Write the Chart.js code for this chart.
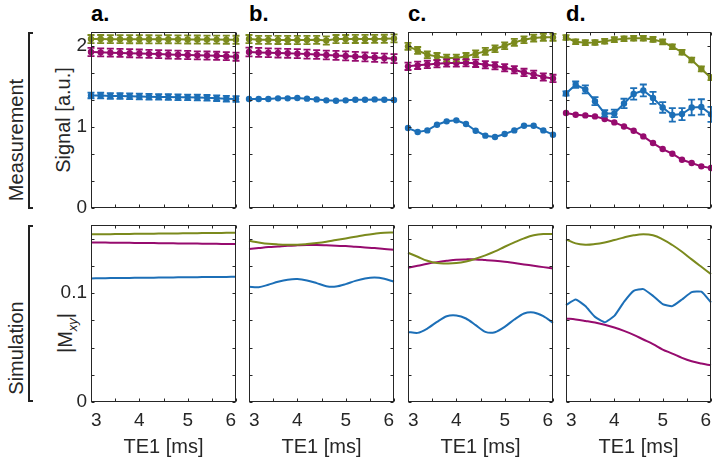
<!DOCTYPE html>
<html>
<head>
<meta charset="utf-8">
<script src="https://cdn.jsdelivr.net/npm/chart.js@4.4.0/dist/chart.umd.min.js"></script>
<style>
    body { margin: 0; background: #fff; width: 712px; height: 461px; overflow: hidden; position: relative; font-family: "Liberation Sans", Arial, sans-serif; }
    canvas { position: absolute; }
    .ttl { position: absolute; top: 3px; font-weight: bold; font-size: 22px; line-height: 22px; color: #000; }
    .vlab { position: absolute; transform: translate(-50%, -50%) rotate(-90deg); white-space: nowrap; font-size: 20px; line-height: 22px; color: #262626; }
    .vlab sub { font-size: 13px; font-style: italic; }
    .brk { position: absolute; box-sizing: border-box; width: 5px; border: 2px solid #222; border-right: none; }
</style>
</head>
<body>
<div class="ttl" style="left:91px">a.</div>
<div class="ttl" style="left:249px">b.</div>
<div class="ttl" style="left:408px">c.</div>
<div class="ttl" style="left:566px">d.</div>
<div class="brk" style="left:28px; top:32px; height:177px"></div>
<div class="brk" style="left:28px; top:225px; height:177px"></div>
<div class="vlab" style="left:16px; top:140px">Measurement</div>
<div class="vlab" style="left:16px; top:348px">Simulation</div>
<div class="vlab" style="left:63px; top:120px">Signal [a.u.]</div>
<div class="vlab" style="left:69px; top:333px">|M<sub>xy</sub>|</div>
<script>
// echo times (ms) and axis ticks
const te1 = [3.0, 3.2, 3.4, 3.6, 3.8, 4.0, 4.2, 4.4, 4.6, 4.8, 5.0, 5.2, 5.4, 5.6, 5.8, 6.0];
const teTicks = [3, 3.5, 4, 4.5, 5, 5.5, 6];
const teTickLabels = ['3', '', '4', '', '5', '', '6'];
const sigTicks = [0, 1/3, 2/3, 1, 4/3, 5/3, 2];
const sigTickLabels = ['0', '', '', '1', '', '', '2'];
const mxyTicks = [0, 0.025, 0.05, 0.075, 0.1, 0.125, 0.15];
const mxyTickLabels = ['0', '', '', '', '0.1', '', ''];

// Measurement: mean signal and sd
const measA_green = [2.086, 2.086, 2.085, 2.085, 2.084, 2.084, 2.083, 2.082, 2.084, 2.082, 2.081, 2.080, 2.079, 2.079, 2.078, 2.077];
const measA_mag   = [1.926, 1.922, 1.918, 1.915, 1.911, 1.907, 1.903, 1.900, 1.896, 1.892, 1.889, 1.885, 1.882, 1.879, 1.875, 1.868];
const measA_blue  = [1.390, 1.388, 1.384, 1.382, 1.379, 1.376, 1.374, 1.372, 1.370, 1.368, 1.366, 1.364, 1.360, 1.356, 1.350, 1.346];
const sdA_green = [0.05, 0.05, 0.05, 0.05, 0.05, 0.05, 0.05, 0.05, 0.05, 0.05, 0.05, 0.05, 0.05, 0.05, 0.05, 0.05];
const sdA_mag   = [0.05, 0.05, 0.05, 0.05, 0.05, 0.05, 0.05, 0.05, 0.05, 0.05, 0.05, 0.05, 0.05, 0.05, 0.05, 0.05];
const sdA_blue  = [0.035, 0.035, 0.035, 0.035, 0.035, 0.035, 0.035, 0.035, 0.035, 0.035, 0.035, 0.035, 0.035, 0.035, 0.035, 0.035];

const measB_green = [2.086, 2.076, 2.076, 2.075, 2.075, 2.074, 2.074, 2.076, 2.068, 2.086, 2.086, 2.087, 2.087, 2.088, 2.089, 2.094];
const measB_mag   = [1.926, 1.921, 1.917, 1.913, 1.910, 1.906, 1.900, 1.895, 1.889, 1.884, 1.878, 1.872, 1.865, 1.858, 1.851, 1.844];
const measB_blue  = [1.345, 1.345, 1.345, 1.354, 1.354, 1.358, 1.350, 1.341, 1.329, 1.325, 1.329, 1.337, 1.337, 1.341, 1.337, 1.333];
const sdB_green = [0.05, 0.05, 0.05, 0.05, 0.05, 0.05, 0.05, 0.05, 0.05, 0.05, 0.05, 0.05, 0.05, 0.05, 0.05, 0.05];
const sdB_mag   = [0.055, 0.055, 0.055, 0.055, 0.055, 0.055, 0.055, 0.055, 0.055, 0.055, 0.055, 0.055, 0.055, 0.055, 0.055, 0.055];

const measC_green = [1.996, 1.946, 1.893, 1.872, 1.852, 1.852, 1.872, 1.905, 1.934, 1.967, 2.004, 2.045, 2.078, 2.098, 2.107, 2.107];
const measC_mag   = [1.749, 1.761, 1.773, 1.781, 1.790, 1.790, 1.794, 1.786, 1.769, 1.757, 1.732, 1.707, 1.674, 1.650, 1.617, 1.600];
const measC_blue  = [0.987, 0.938, 0.958, 1.028, 1.070, 1.082, 1.037, 0.954, 0.893, 0.876, 0.913, 0.958, 1.016, 1.016, 0.958, 0.905];
const sdC_green = [0.042, 0.042, 0.042, 0.042, 0.042, 0.042, 0.042, 0.042, 0.042, 0.042, 0.042, 0.042, 0.042, 0.042, 0.042, 0.042];
const sdC_mag   = [0.045, 0.045, 0.045, 0.045, 0.045, 0.045, 0.045, 0.045, 0.045, 0.045, 0.045, 0.045, 0.045, 0.045, 0.045, 0.045];

const measD_green = [2.105, 2.053, 2.041, 2.043, 2.059, 2.078, 2.090, 2.096, 2.096, 2.081, 2.051, 1.991, 1.923, 1.827, 1.717, 1.609];
const measD_blue  = [1.414, 1.522, 1.464, 1.319, 1.168, 1.168, 1.291, 1.409, 1.451, 1.359, 1.241, 1.149, 1.160, 1.241, 1.248, 1.156];
const measD_mag   = [1.173, 1.152, 1.143, 1.131, 1.099, 1.057, 1.007, 0.954, 0.884, 0.802, 0.728, 0.670, 0.596, 0.556, 0.514, 0.494];
const sdD_green = [0.03, 0.03, 0.03, 0.03, 0.03, 0.03, 0.03, 0.03, 0.03, 0.03, 0.03, 0.03, 0.03, 0.03, 0.03, 0.03];
const sdD_blue  = [0.025, 0.04, 0.05, 0.05, 0.04, 0.047, 0.058, 0.072, 0.074, 0.074, 0.065, 0.083, 0.074, 0.096, 0.095, 0.093];

// Simulation: |Mxy|
const simA_green = [0.1540, 0.1541, 0.1542, 0.1543, 0.1544, 0.1545, 0.1546, 0.1547, 0.1548, 0.1549, 0.1550, 0.1551, 0.1552, 0.1553, 0.1554, 0.1555];
const simA_mag   = [0.1466, 0.1465, 0.1464, 0.1463, 0.1462, 0.1461, 0.1460, 0.1459, 0.1458, 0.1457, 0.1456, 0.1455, 0.1454, 0.1453, 0.1452, 0.1451];
const simA_blue  = [0.1135, 0.1137, 0.1138, 0.1139, 0.1140, 0.1141, 0.1142, 0.1143, 0.1144, 0.1145, 0.1146, 0.1147, 0.1148, 0.1148, 0.1149, 0.1150];

const simB_green = [0.1481, 0.1466, 0.1454, 0.1448, 0.1445, 0.1445, 0.1451, 0.1460, 0.1472, 0.1488, 0.1503, 0.1518, 0.1534, 0.1546, 0.1555, 0.1558];
const simB_mag   = [0.1405, 0.1414, 0.1423, 0.1429, 0.1435, 0.1439, 0.1442, 0.1442, 0.1439, 0.1435, 0.1432, 0.1426, 0.1420, 0.1414, 0.1405, 0.1399];
const simB_blue  = [0.1058, 0.1055, 0.1077, 0.1104, 0.1123, 0.1129, 0.1117, 0.1092, 0.1064, 0.1061, 0.1083, 0.1113, 0.1135, 0.1144, 0.1132, 0.1104];

const simC_green = [0.1371, 0.1334, 0.1297, 0.1276, 0.1273, 0.1276, 0.1291, 0.1316, 0.1347, 0.1383, 0.1426, 0.1466, 0.1503, 0.1531, 0.1543, 0.1543];
const simC_mag   = [0.1233, 0.1251, 0.1270, 0.1285, 0.1297, 0.1307, 0.1310, 0.1310, 0.1304, 0.1297, 0.1288, 0.1276, 0.1264, 0.1251, 0.1239, 0.1227];
const simC_blue  = [0.0644, 0.0635, 0.0675, 0.0736, 0.0788, 0.0795, 0.0767, 0.0706, 0.0644, 0.0641, 0.0690, 0.0758, 0.0813, 0.0822, 0.0788, 0.0727];

const simD_green = [0.1494, 0.1457, 0.1445, 0.1451, 0.1466, 0.1488, 0.1512, 0.1531, 0.1540, 0.1531, 0.1494, 0.1442, 0.1380, 0.1310, 0.1242, 0.1175];
const simD_blue  = [0.0890, 0.0942, 0.0881, 0.0782, 0.0733, 0.0791, 0.0920, 0.1021, 0.1037, 0.0975, 0.0899, 0.0881, 0.0942, 0.1010, 0.1013, 0.0914];
const simD_mag   = [0.0767, 0.0758, 0.0745, 0.0730, 0.0709, 0.0684, 0.0653, 0.0617, 0.0574, 0.0531, 0.0482, 0.0445, 0.0405, 0.0374, 0.0353, 0.0338];

const GREEN = '#7b8a1d', MAG = '#960b6e', BLUE = '#1c6fb7';
const FONT = '"Liberation Sans", Arial, sans-serif';
const TXT = '#262626';

// layout of the axes boxes
const colLeft = [91, 249, 408, 566];
const BOX_W = 145, PAD = 8, YW = 40;
const rows = [
    { top: 32, h: 176, xh: 8 },
    { top: 225, h: 177, xh: 58 }
];

// error bars + MATLAB-style box with inward ticks
const boxPlugin = {
    id: 'boxPlugin',
    afterDatasetsDraw(chart) {
        const { ctx, chartArea: a, scales: { x, y } } = chart;
        ctx.save();
        chart.data.datasets.forEach((ds, di) => {
            if (!ds.sd) return;
            const meta = chart.getDatasetMeta(di);
            ctx.strokeStyle = ds.borderColor;
            ctx.lineWidth = 1.8;
            ds.data.forEach((p, i) => {
                const px = meta.data[i].x;
                const t = y.getPixelForValue(p.y + ds.sd[i]);
                const b = y.getPixelForValue(p.y - ds.sd[i]);
                ctx.beginPath();
                ctx.moveTo(px, t); ctx.lineTo(px, b);
                ctx.moveTo(px - 3.5, t); ctx.lineTo(px + 3.5, t);
                ctx.moveTo(px - 3.5, b); ctx.lineTo(px + 3.5, b);
                ctx.stroke();
            });
        });
        ctx.strokeStyle = TXT;
        ctx.lineWidth = 1;
        const L = Math.round(a.left) + 0.5, R = Math.round(a.right) - 0.5;
        const T = Math.round(a.top) + 0.5, B = Math.round(a.bottom) - 0.5;
        ctx.strokeRect(L, T, R - L, B - T);
        ctx.beginPath();
        x.ticks.forEach(tk => {
            const px = Math.round(x.getPixelForValue(tk.value)) + 0.5;
            ctx.moveTo(px, B); ctx.lineTo(px, B - 3);
            ctx.moveTo(px, T); ctx.lineTo(px, T + 3);
        });
        y.ticks.forEach(tk => {
            const py = Math.round(y.getPixelForValue(tk.value)) + 0.5;
            ctx.moveTo(L, py); ctx.lineTo(L + 3, py);
            ctx.moveTo(R, py); ctx.lineTo(R - 3, py);
        });
        ctx.stroke();
        ctx.restore();
    }
};

function makePanel(col, row, series) {
    const r = rows[row];
    const cv = document.createElement('canvas');
    cv.width = YW + BOX_W + PAD;
    cv.height = PAD + r.h + r.xh;
    cv.style.left = (colLeft[col] - YW) + 'px';
    cv.style.top = (r.top - PAD) + 'px';
    document.body.appendChild(cv);

    const yVals = row ? mxyTicks : sigTicks;
    const yLabs = row ? mxyTickLabels : sigTickLabels;

    new Chart(cv, {
        type: 'line',
        data: {
            datasets: series.map(s => ({
                data: te1.map((t, i) => ({ x: t, y: s.v[i] })),
                sd: s.sd || null,
                borderColor: s.c,
                backgroundColor: s.c,
                borderWidth: 2,
                pointRadius: row ? 0 : 3.2,
                pointBorderWidth: 0,
                pointBackgroundColor: s.c,
                tension: row ? s.t : 0,
                clip: false
            }))
        },
        options: {
            responsive: false,
            animation: false,
            events: [],
            layout: { padding: { left: 0, top: PAD, right: PAD, bottom: 0 } },
            plugins: { legend: { display: false }, tooltip: { enabled: false } },
            scales: {
                x: {
                    type: 'linear', min: 3, max: 6,
                    grid: { display: false, drawTicks: false },
                    border: { display: false },
                    ticks: {
                        display: row === 1, align: 'inner', autoSkip: false, maxRotation: 0,
                        padding: 7, color: TXT, font: { family: FONT, size: 19 },
                        callback: (v, i) => teTickLabels[i]
                    },
                    title: {
                        display: row === 1, text: 'TE1 [ms]', color: TXT,
                        font: { family: FONT, size: 20 }, padding: { top: 0, bottom: 1 }
                    },
                    afterBuildTicks: s => { s.ticks = teTicks.map(v => ({ value: v })); },
                    afterFit: s => { s.height = r.xh; s.paddingLeft = 0; s.paddingRight = 0; }
                },
                y: {
                    type: 'linear', min: 0, max: row ? 0.1626 : 2.173,
                    grid: { display: false, drawTicks: false },
                    border: { display: false },
                    ticks: {
                        display: col === 0, autoSkip: false, padding: 4,
                        color: TXT, font: { family: FONT, size: 19 },
                        callback: (v, i) => yLabs[i]
                    },
                    afterBuildTicks: s => { s.ticks = yVals.map(v => ({ value: v })); },
                    afterFit: s => { s.width = YW; s.paddingTop = 0; s.paddingBottom = 0; }
                }
            }
        },
        plugins: [boxPlugin]
    });
}

// Measurement row
makePanel(0, 0, [
    { v: measA_green, sd: sdA_green, c: GREEN },
    { v: measA_mag, sd: sdA_mag, c: MAG },
    { v: measA_blue, sd: sdA_blue, c: BLUE }
]);
makePanel(1, 0, [
    { v: measB_green, sd: sdB_green, c: GREEN },
    { v: measB_mag, sd: sdB_mag, c: MAG },
    { v: measB_blue, c: BLUE }
]);
makePanel(2, 0, [
    { v: measC_green, sd: sdC_green, c: GREEN },
    { v: measC_mag, sd: sdC_mag, c: MAG },
    { v: measC_blue, c: BLUE }
]);
makePanel(3, 0, [
    { v: measD_green, sd: sdD_green, c: GREEN },
    { v: measD_blue, sd: sdD_blue, c: BLUE },
    { v: measD_mag, c: MAG }
]);

// Simulation row
makePanel(0, 1, [
    { v: simA_green, c: GREEN, t: 0.4 },
    { v: simA_mag, c: MAG, t: 0.4 },
    { v: simA_blue, c: BLUE, t: 0.4 }
]);
makePanel(1, 1, [
    { v: simB_green, c: GREEN, t: 0.4 },
    { v: simB_mag, c: MAG, t: 0.4 },
    { v: simB_blue, c: BLUE, t: 0.3 }
]);
makePanel(2, 1, [
    { v: simC_green, c: GREEN, t: 0.4 },
    { v: simC_mag, c: MAG, t: 0.4 },
    { v: simC_blue, c: BLUE, t: 0.25 }
]);
makePanel(3, 1, [
    { v: simD_green, c: GREEN, t: 0.4 },
    { v: simD_blue, c: BLUE, t: 0.15 },
    { v: simD_mag, c: MAG, t: 0.4 }
]);
</script>
</body>
</html>
